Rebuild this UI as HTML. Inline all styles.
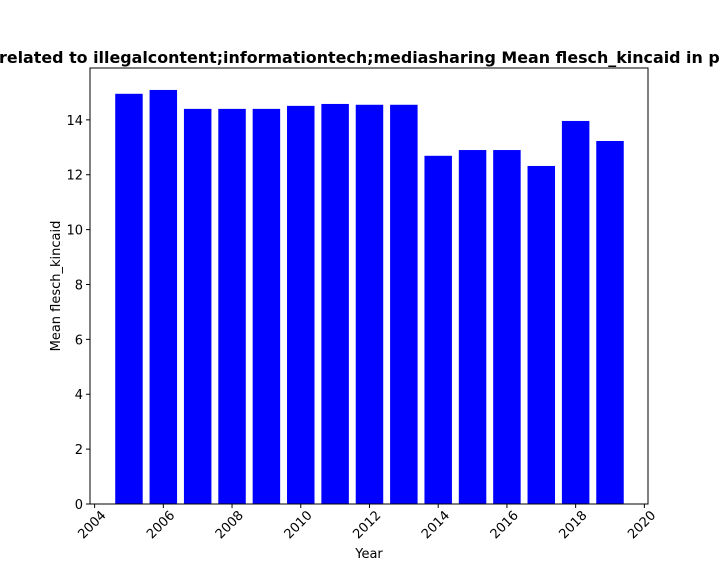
<!DOCTYPE html>
<html><head><meta charset="utf-8"><style>
body{margin:0;background:#fff;}
svg{display:block;font-family:"DejaVu Sans","Liberation Sans",sans-serif;}
</style></head><body>
<svg id="chart" width="720" height="576" xmlns="http://www.w3.org/2000/svg">
<text x="-1" y="63" text-anchor="start" font-size="15.9" font-weight="bold">related to illegalcontent;informationtech;mediasharing Mean flesch_kincaid in posts</text>
<g id="plot"></g>
<text x="369" y="558" text-anchor="middle" font-size="13">Year</text>
<text transform="translate(60,286) rotate(-90)" text-anchor="middle" font-size="13">Mean flesch_kincaid</text>
</svg>
<script>
const years = [2005,2006,2007,2008,2009,2010,2011,2012,2013,2014,2015,2016,2017,2018,2019];
const values = [14.95,15.09,14.4,14.4,14.4,14.51,14.58,14.55,14.55,12.69,12.9,12.9,12.32,13.96,13.23];
const xTicks = [2004,2006,2008,2010,2012,2014,2016,2018,2020];
const yTicks = [0,2,4,6,8,10,12,14];

const L=90,R=648,T=68,B=504;
const ppy=34.36, x2004=94.6;
const xmin=2004-(x2004-L)/ppy,xmax=xmin+(R-L)/ppy,ymax=15.89;
const xs=v=>L+(v-xmin)/(xmax-xmin)*(R-L);
const ys=v=>B-v/ymax*(B-T);
const NS="http://www.w3.org/2000/svg";
const g=document.getElementById('plot');
function mk(t,a){const e=document.createElementNS(NS,t);for(const k in a)e.setAttribute(k,a[k]);g.appendChild(e);return e;}
years.forEach((y,i)=>{
  const x0=xs(y-0.4),x1=xs(y+0.4);
  const r=mk('rect',{x:x0,y:ys(values[i]),width:x1-x0,height:B-ys(values[i]),fill:'#0000ff'});
  
  
});
const frame=mk('rect',{x:L,y:T,width:R-L,height:B-T,fill:'none',stroke:'#000','stroke-width':1});


xTicks.forEach(t=>{
  const x=xs(t);
  mk('line',{x1:x,x2:x,y1:B,y2:B+4,stroke:'#000'});
  const tx=mk('text',{transform:`translate(${x+12},${B+12}) rotate(-45)`,'text-anchor':'end','font-size':13});
  tx.textContent=t;
  
  
});
yTicks.forEach(t=>{
  const y=ys(t);
  mk('line',{x1:L-4,x2:L,y1:y,y2:y,stroke:'#000'});
  const tx=mk('text',{x:L-7,y:y+5,'text-anchor':'end','font-size':13});
  tx.textContent=t;
  
  
});
</script>
</body></html>
